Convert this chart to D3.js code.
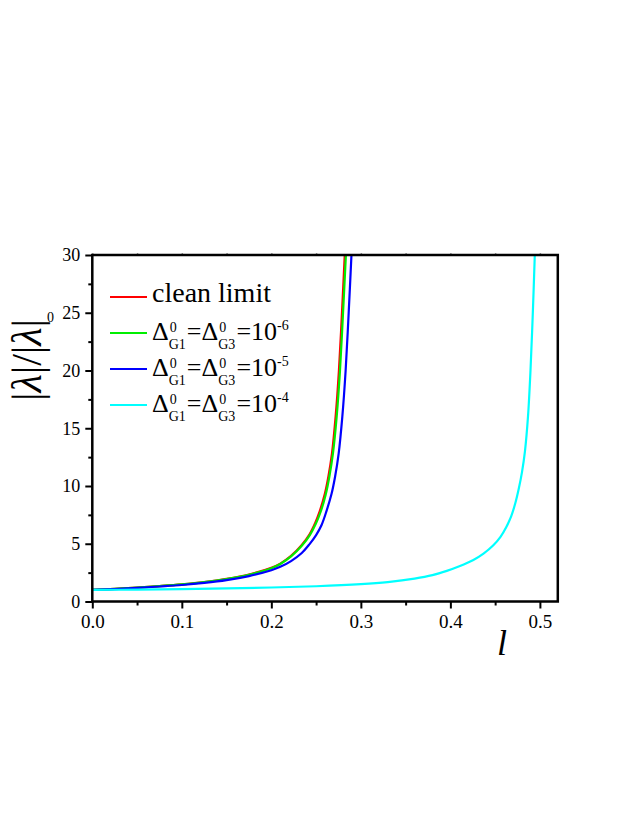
<!DOCTYPE html>
<html>
<head>
<meta charset="utf-8">
<script src="https://cdn.jsdelivr.net/npm/d3@7"></script>
<style>
  body { margin: 0; background: #fff; }
  text { font-family: "Liberation Serif", "DejaVu Serif", serif; fill: #000; }
</style>
</head>
<body>
<script>
// data
const lClean = [0, 0.025, 0.05, 0.075, 0.1, 0.125, 0.15, 0.175, 0.2, 0.21, 0.222, 0.234, 0.2425, 0.249, 0.254, 0.2597, 0.2637, 0.2677, 0.2718, 0.2755, 0.2789, 0.282]
const vClean = [1.0, 1.09, 1.2, 1.33, 1.48, 1.68, 1.96, 2.34, 2.92, 3.28, 3.95, 4.9, 5.8, 6.8, 7.8, 9.3, 10.8, 12.8, 16.0, 20.0, 25.0, 30]

const lG6 = [0, 0.025, 0.05, 0.075, 0.1, 0.125, 0.15, 0.175, 0.2, 0.21, 0.222, 0.234, 0.243, 0.2498, 0.255, 0.2607, 0.2648, 0.2688, 0.273, 0.2767, 0.2801, 0.2833]
const vG6 = [1.0, 1.09, 1.2, 1.33, 1.48, 1.68, 1.95, 2.32, 2.88, 3.25, 3.9, 4.82, 5.75, 6.75, 7.75, 9.25, 10.8, 12.8, 16.0, 20.0, 25.0, 30]

const lG5 = [0, 0.025, 0.05, 0.075, 0.1, 0.125, 0.15, 0.175, 0.2, 0.21, 0.222, 0.234, 0.2425, 0.25, 0.256, 0.2615, 0.2672, 0.2712, 0.2752, 0.2793, 0.283, 0.2864, 0.2895]
const vG5 = [1.0, 1.08, 1.18, 1.3, 1.43, 1.61, 1.85, 2.2, 2.7, 3.0, 3.5, 4.2, 4.95, 5.75, 6.6, 7.8, 9.3, 10.8, 12.8, 16.0, 20.0, 25.0, 30]

const lG4 = [0, 0.05, 0.1, 0.15, 0.2, 0.25, 0.3, 0.33, 0.36, 0.38, 0.396, 0.41, 0.4257, 0.437, 0.4477, 0.456, 0.4625, 0.468, 0.4725, 0.4765, 0.48, 0.4833, 0.4867, 0.4895, 0.4921, 0.4943]
const vG4 = [1.0, 1.03, 1.07, 1.13, 1.21, 1.32, 1.5, 1.68, 1.98, 2.28, 2.65, 3.05, 3.6, 4.15, 4.85, 5.6, 6.45, 7.4, 8.5, 9.8, 11.2, 13.0, 16.0, 20.0, 25.0, 30]

const xTicks = [0, 0.1, 0.2, 0.3, 0.4, 0.5]
const xMinor = [0.05, 0.15, 0.25, 0.35, 0.45]
const yTicks = [0, 5, 10, 15, 20, 25, 30]
const yMinor = [2.5, 7.5, 12.5, 17.5, 22.5, 27.5]

const series = [
  { l: lClean, v: vClean, color: "#ff0000" },
  { l: lG6, v: vG6, color: "#00ee00" },
  { l: lG5, v: vG5, color: "#0000ff" },
  { l: lG4, v: vG4, color: "#00ffff" }
]
const exps = ["-6", "-5", "-4"]

const svg = d3.select("body").append("svg").attr("width", 637).attr("height", 824)

const x = d3.scaleLinear().domain([0, 0.52]).range([92.3, 557.8])
const y = d3.scaleLinear().domain([0, 30]).range([601.5, 255])

// curves
const line = d3.line().x(d => x(d[0])).y(d => y(d[1])).curve(d3.curveCatmullRom.alpha(0.5))
series.forEach(s => {
  svg.append("path")
    .datum(s.l.map((l, i) => [l, s.v[i]]))
    .attr("d", line)
    .attr("fill", "none")
    .attr("stroke", s.color)
    .attr("stroke-width", 2.2)
})

// axes
const xAxis = svg.append("g").attr("transform", "translate(0,601.5)")
  .call(d3.axisBottom(x).tickValues(xTicks).tickSize(7).tickPadding(6).tickFormat(d3.format(".1f")))
svg.append("g").attr("transform", "translate(0,601.5)")
  .call(d3.axisBottom(x).tickValues(xMinor).tickSize(4).tickFormat(""))

const yAxis = svg.append("g").attr("transform", "translate(92.3,0)")
  .call(d3.axisLeft(y).tickValues(yTicks).tickSize(7).tickPadding(5))
svg.append("g").attr("transform", "translate(92.3,0)")
  .call(d3.axisLeft(y).tickValues(yMinor).tickSize(4).tickFormat(""))

svg.selectAll("g").attr("font-family", "Liberation Serif")
xAxis.selectAll(".tick text").style("font-size", "19px")
yAxis.selectAll(".tick text").style("font-size", "18px")
svg.selectAll(".domain").remove()
svg.selectAll(".tick line").attr("stroke", "#000").attr("stroke-width", 2)

// tiny top ticks
svg.append("g").attr("transform", "translate(0,255)")
  .call(d3.axisTop(x).tickValues(xTicks.concat(xMinor)).tickSize(2).tickFormat(""))
  .call(g => g.select(".domain").remove())
  .selectAll(".tick line").attr("stroke", "#999").attr("stroke-width", 1.5)

// frame
svg.append("rect").attr("x", 92.3).attr("y", 255).attr("width", 557.8 - 92.3).attr("height", 601.5 - 255)
  .attr("fill", "none").attr("stroke", "#000").attr("stroke-width", 2.5)

// axis titles
svg.append("text").attr("x", 497).attr("y", 655)
  .style("font-size", "36px").style("font-style", "italic").text("l")

const yl = svg.append("text").attr("transform", "translate(41,360) rotate(-90)")
  .attr("text-anchor", "middle").style("font-size", "42px")
yl.append("tspan").text("|")
yl.append("tspan").style("font-style", "italic").text("λ")
yl.append("tspan").text("|/|")
yl.append("tspan").style("font-style", "italic").text("λ")
yl.append("tspan").text("|")
svg.append("text").attr("x", 47).attr("y", 322).style("font-size", "14px").text("0")

// legend
function piece(x0, y0, str, size) {
  const t = svg.append("text").attr("x", x0).attr("y", y0).style("font-size", size + "px").text(str)
  return t.node().getComputedTextLength()
}

const rowY = [297, 333, 369, 405]
series.forEach((s, i) => {
  svg.append("line").attr("x1", 110).attr("x2", 147).attr("y1", rowY[i]).attr("y2", rowY[i])
    .attr("stroke", s.color).attr("stroke-width", 2)
})
piece(152, 302, "clean limit", 28)

exps.forEach((e, i) => {
  const b = rowY[i + 1] + 7
  let cx = 152
  cx += piece(cx, b, "Δ", 26)
  const w1 = Math.max(piece(cx + 1, b - 8, "0", 14), piece(cx, b + 9, "G1", 14))
  cx += w1 + 1
  cx += piece(cx, b, "=Δ", 26)
  const w2 = Math.max(piece(cx + 1, b - 8, "0", 14), piece(cx, b + 9, "G3", 14))
  cx += w2 + 1
  cx += piece(cx, b, "=10", 26)
  piece(cx, b - 10, e, 14)
})
</script>
</body>
</html>
